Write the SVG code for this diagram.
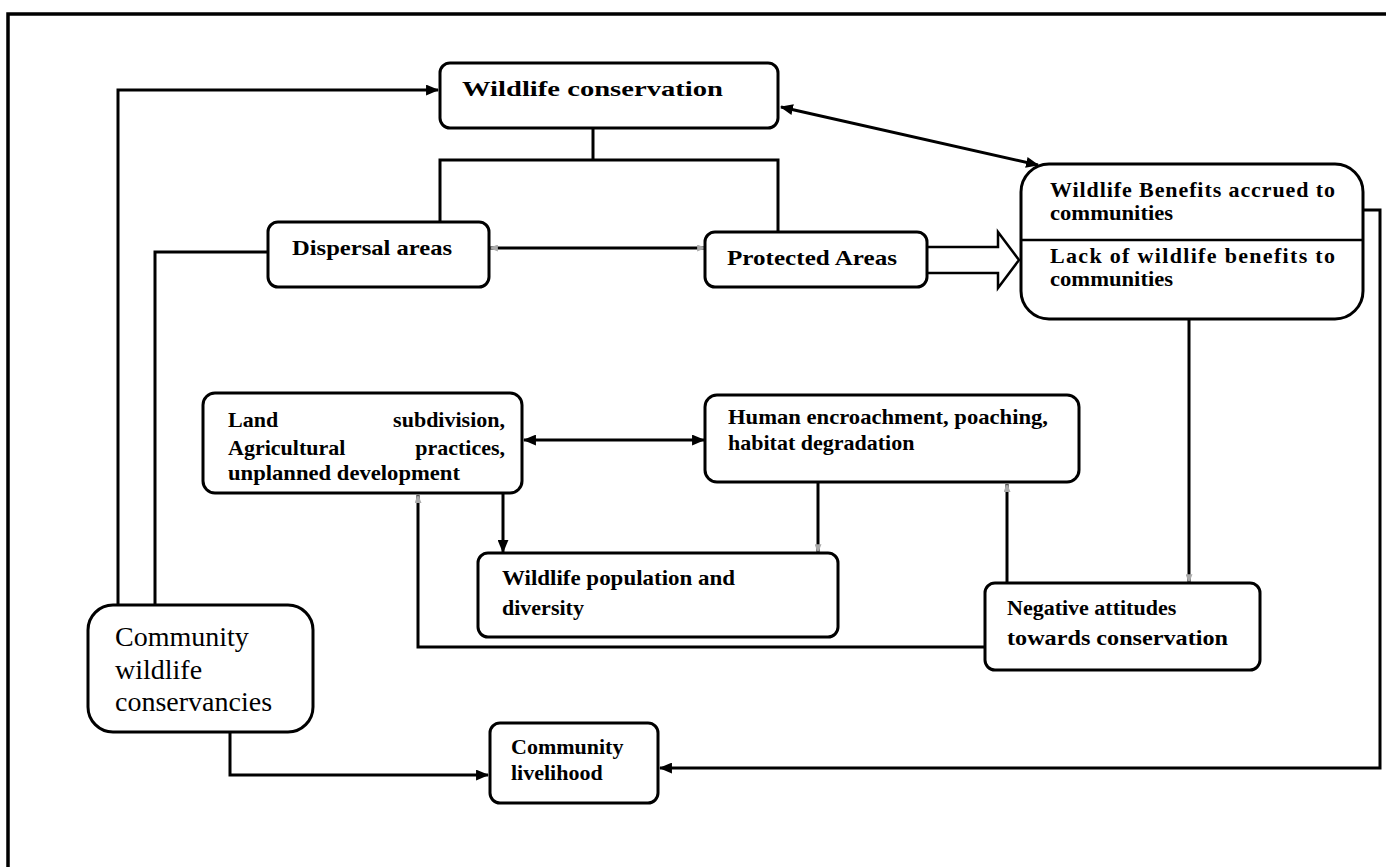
<svg xmlns="http://www.w3.org/2000/svg" width="1386" height="867" viewBox="0 0 1386 867">
<style>
.box{fill:#fff;stroke:#000;stroke-width:3}
.c{fill:none;stroke:#000;stroke-width:3}
.t{font-family:"Liberation Serif","Times New Roman",serif;font-weight:bold;font-size:22px;fill:#000}
.n{font-family:"Liberation Serif","Times New Roman",serif;font-weight:normal;font-size:28px;fill:#000}
</style>
<defs>
<marker id="ah" viewBox="0 0 12 10" refX="11" refY="5" markerWidth="13" markerHeight="11" markerUnits="userSpaceOnUse" orient="auto-start-reverse">
<path d="M0,0 L12,5 L0,10 z" fill="#000"/>
</marker>
<marker id="fa" viewBox="0 0 10 8" refX="9" refY="4" markerWidth="9" markerHeight="7" markerUnits="userSpaceOnUse" orient="auto-start-reverse">
<path d="M0,0 L10,4 L0,8 z" fill="#aaa"/>
</marker>
</defs>
<rect width="1386" height="867" fill="#fff"/>
<path d="M8,867 V14 H1386" fill="none" stroke="#000" stroke-width="3.5"/>

<g id="connectors">
<path class="c" d="M118,605 V90 H438" marker-end="url(#ah)"/>
<path class="c" d="M593,128 V160"/>
<path class="c" d="M440,222 V160 H778 V232"/>
<path class="c" d="M268,252 H155 V605"/>
<path class="c" d="M490,248 H705" marker-start="url(#fa)" marker-end="url(#fa)"/>
<path d="M927,247 H998 V232 L1019,260 L998,288 V273 H927" fill="#fff" stroke="#000" stroke-width="2.5"/>
<path class="c" d="M781,107 L1038,165" stroke-width="2.5" marker-start="url(#ah)" marker-end="url(#ah)"/>
<path class="c" d="M1363,210 H1380 V768 H660" marker-end="url(#ah)"/>
<path class="c" d="M1189,320 V582" marker-end="url(#fa)"/>
<path class="c" d="M524,440 H704" marker-start="url(#ah)" marker-end="url(#ah)"/>
<path class="c" d="M503,493 V552" marker-end="url(#ah)"/>
<path class="c" d="M818,482 V552" marker-end="url(#fa)"/>
<path class="c" d="M1007,583 V484" marker-end="url(#fa)"/>
<path class="c" d="M985,647 H418 V495" marker-end="url(#fa)"/>
<path class="c" d="M230,732 V775 H488" marker-end="url(#ah)"/>
</g>

<g id="wildlife-conservation">
<rect class="box" x="440" y="63" width="338" height="65" rx="10"/>
<text class="t" x="462" y="96" font-size="25" textLength="261" lengthAdjust="spacingAndGlyphs">Wildlife conservation</text>
</g>

<g id="dispersal-areas">
<rect class="box" x="268" y="222" width="221" height="65" rx="10"/>
<text class="t" x="292" y="255" font-size="24" textLength="160" lengthAdjust="spacingAndGlyphs">Dispersal areas</text>
</g>

<g id="protected-areas">
<rect class="box" x="705" y="232" width="222" height="55" rx="10"/>
<text class="t" x="727" y="265" font-size="24" textLength="170" lengthAdjust="spacingAndGlyphs">Protected Areas</text>
</g>

<g id="benefits">
<rect class="box" x="1021" y="164" width="342" height="155" rx="28"/>
<line x1="1021" y1="240" x2="1363" y2="240" stroke="#000" stroke-width="2.5"/>
<text class="t" x="1050" y="197" font-size="20" textLength="285" lengthAdjust="spacing">Wildlife Benefits accrued to</text>
<text class="t" x="1050" y="220" font-size="20" textLength="123" lengthAdjust="spacingAndGlyphs">communities</text>
<text class="t" x="1050" y="263" font-size="20" textLength="285" lengthAdjust="spacing">Lack of wildlife benefits to</text>
<text class="t" x="1050" y="286" font-size="20" textLength="123" lengthAdjust="spacingAndGlyphs">communities</text>
</g>

<g id="land-subdivision">
<rect class="box" x="203" y="393" width="319" height="100" rx="12"/>
<text class="t" x="228" y="427">Land</text>
<text class="t" x="505" y="427" text-anchor="end">subdivision,</text>
<text class="t" x="228" y="455">Agricultural</text>
<text class="t" x="505" y="455" text-anchor="end">practices,</text>
<text class="t" x="228" y="480" textLength="232" lengthAdjust="spacingAndGlyphs">unplanned development</text>
</g>

<g id="human-encroachment">
<rect class="box" x="705" y="395" width="374" height="87" rx="12"/>
<text class="t" x="728" y="424" textLength="320" lengthAdjust="spacingAndGlyphs">Human encroachment, poaching,</text>
<text class="t" x="728" y="450">habitat degradation</text>
</g>

<g id="wildlife-population">
<rect class="box" x="478" y="553" width="360" height="84" rx="10"/>
<text class="t" x="502" y="585" textLength="233" lengthAdjust="spacingAndGlyphs">Wildlife population and</text>
<text class="t" x="502" y="615">diversity</text>
</g>

<g id="negative-attitudes">
<rect class="box" x="985" y="583" width="275" height="87" rx="10"/>
<text class="t" x="1007" y="615" font-size="23">Negative attitudes</text>
<text class="t" x="1007" y="645" font-size="23" textLength="221" lengthAdjust="spacingAndGlyphs">towards conservation</text>
</g>

<g id="community-conservancies">
<rect class="box" x="88" y="605" width="225" height="127" rx="25"/>
<text class="n" x="115" y="646">Community</text>
<text class="n" x="115" y="679">wildlife</text>
<text class="n" x="115" y="711">conservancies</text>
</g>

<g id="community-livelihood">
<rect class="box" x="490" y="723" width="168" height="80" rx="10"/>
<text class="t" x="511" y="754">Community</text>
<text class="t" x="511" y="780">livelihood</text>
</g>
</svg>
